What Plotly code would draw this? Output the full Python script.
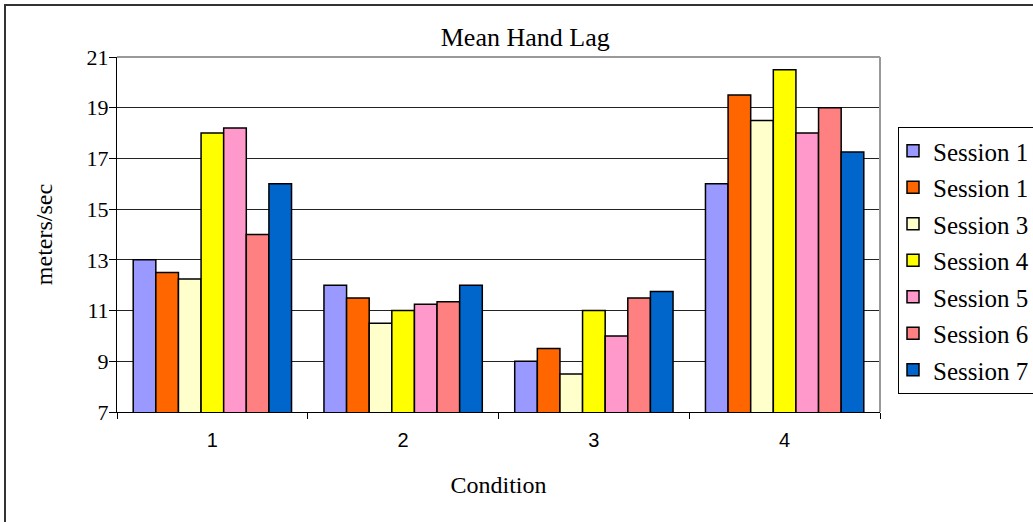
import plotly.graph_objects as go

conditions = ["1", "2", "3", "4"]
session_names = ["Session 1", "Session 1", "Session 3", "Session 4", "Session 5", "Session 6", "Session 7"]
s1 = [13.0, 12.0, 9.0, 16.0]
s2 = [12.5, 11.5, 9.5, 19.5]
s3 = [12.25, 10.5, 8.5, 18.5]
s4 = [18.0, 11.0, 11.0, 20.5]
s5 = [18.2, 11.25, 10.0, 18.0]
s6 = [14.0, 11.35, 11.5, 19.0]
s7 = [16.0, 12.0, 11.75, 17.25]
series = [s1, s2, s3, s4, s5, s6, s7]
colors = ["#9999FF", "#FF6600", "#FFFFCC", "#FFFF00", "#FF99CC", "#FF8080", "#0066CC"]

fig = go.Figure()
for i, (name, vals, col) in enumerate(zip(session_names, series, colors)):
    fig.add_trace(go.Bar(
        x=conditions, y=vals, name=name, legendgroup=f"g{i}",
        marker=dict(color=col, line=dict(color="black", width=1.5)),
    ))

serif = "Liberation Serif, Times New Roman, serif"
fig.update_layout(
    width=1033, height=522,
    margin=dict(l=117, r=153, t=57, b=110, autoexpand=False),
    paper_bgcolor="white", plot_bgcolor="white",
    barmode="group", bargap=0.17, bargroupgap=0,
    font=dict(family=serif, color="black", size=22),
    title=dict(text="Mean Hand Lag", x=0.535, xanchor="center", xref="paper",
               y=1 - 37 / 522, yanchor="middle", font=dict(family=serif, size=26)),
    legend=dict(x=(898 - 117) / 763, y=1 - (127 - 57) / 355, xanchor="left", yanchor="top",
                bordercolor="black", borderwidth=1, bgcolor="white",
                font=dict(family=serif, size=25), tracegroupgap=1,
                indentation=-6, itemclick=False),
    xaxis=dict(
        type="category", showline=True, linecolor="black", linewidth=1,
        ticks="outside", tickson="boundaries", ticklen=6, tickcolor="black",
        tickfont=dict(family="Liberation Sans, Arial, sans-serif", size=20),
        ticklabelstandoff=10,
        title=dict(text="Condition", font=dict(family=serif, size=24), standoff=26),
        showgrid=False, mirror=False,
    ),
    yaxis=dict(
        range=[7, 21], dtick=2, tick0=7, showline=True, linecolor="black", linewidth=1,
        ticks="outside", ticklen=7, tickcolor="black",
        tickfont=dict(family=serif, size=22), ticklabelstandoff=-4,
        showgrid=True, gridcolor="#222222", gridwidth=1,
        title=dict(text="meters/sec", font=dict(family=serif, size=24), standoff=27),
        zeroline=False,
    ),
)

# plot area top and right border (grey)
fig.add_shape(type="line", xref="paper", yref="paper", x0=0, x1=1, y0=1, y1=1,
              line=dict(color="#999999", width=2))
fig.add_shape(type="line", xref="paper", yref="paper", x0=1, x1=1, y0=0, y1=1,
              line=dict(color="#999999", width=2))
# outer chart border
fig.add_shape(type="rect", xref="paper", yref="paper",
              x0=(5 - 117) / 763, x1=1.3, y0=-0.5, y1=1 + (57 - 5) / 355,
              line=dict(color="#333333", width=2), layer="below")

fig.write_html("out.html")
